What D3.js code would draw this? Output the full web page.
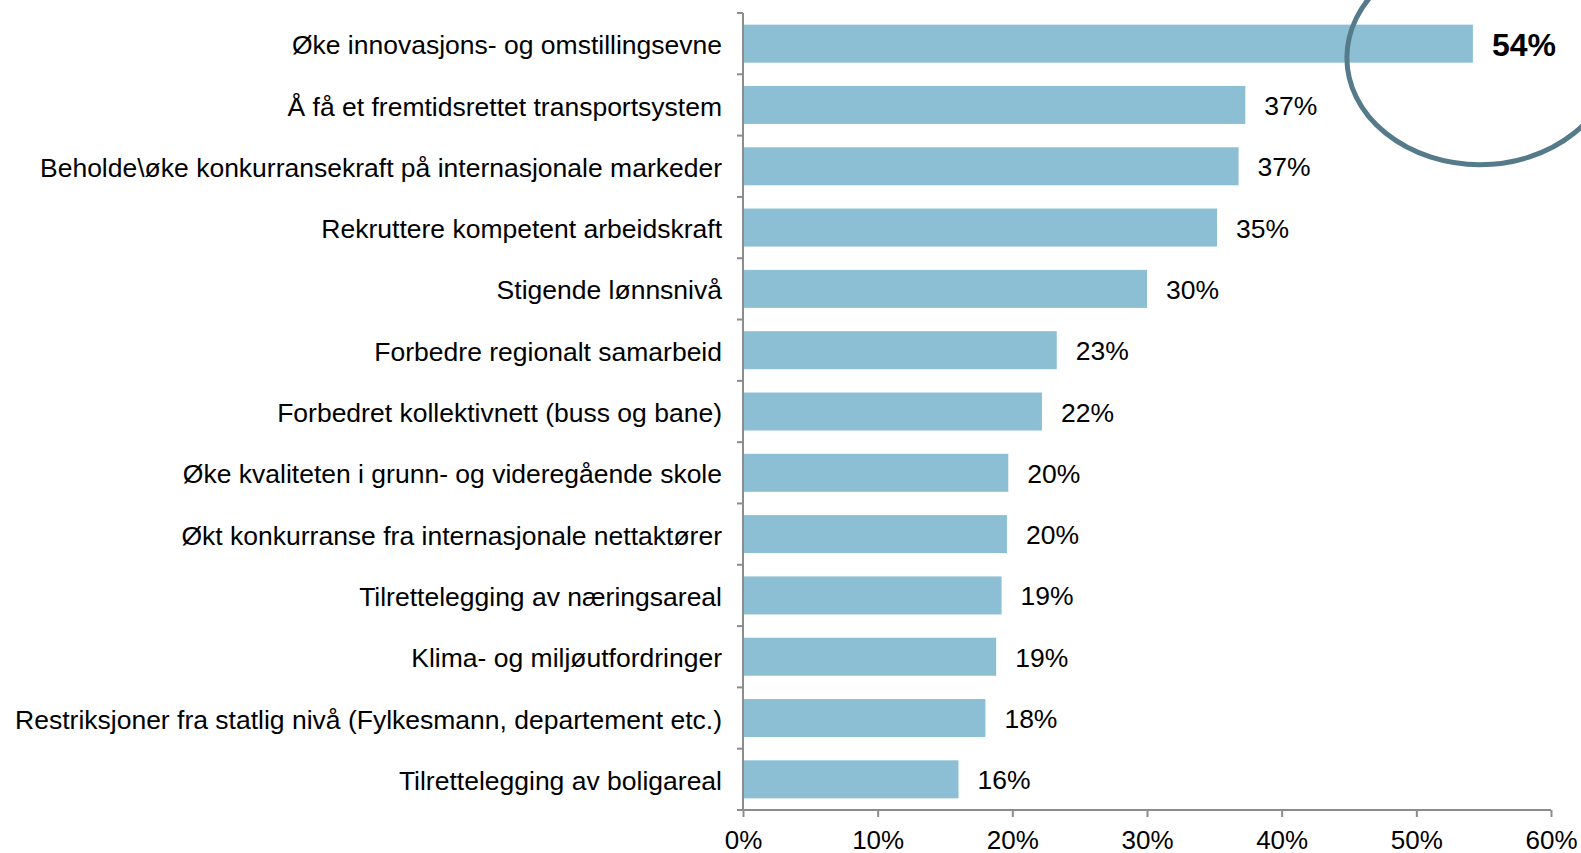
<!DOCTYPE html>
<html>
<head>
<meta charset="utf-8">
<script src="https://cdn.jsdelivr.net/npm/d3@7"></script>
<style>
  body { margin: 0; background: #ffffff; }
  svg { display: block; font-family: "Liberation Sans", Arial, Helvetica, sans-serif; }
</style>
</head>
<body>
<svg id="chart" width="1581" height="853"></svg>
<script>
// categories, top to bottom
let categories = [
	"Øke innovasjons- og omstillingsevne",
	"Å få et fremtidsrettet transportsystem",
	"Beholde\\øke konkurransekraft på internasjonale markeder",
	"Rekruttere kompetent arbeidskraft",
	"Stigende lønnsnivå",
	"Forbedre regionalt samarbeid",
	"Forbedret kollektivnett (buss og bane)",
	"Øke kvaliteten i grunn- og videregående skole",
	"Økt konkurranse fra internasjonale nettaktører",
	"Tilrettelegging av næringsareal",
	"Klima- og miljøutfordringer",
	"Restriksjoner fra statlig nivå (Fylkesmann, departement etc.)",
	"Tilrettelegging av boligareal"
];
// share in percent
let values = [ 54.2, 37.3, 36.8, 35.2, 30.0, 23.3, 22.2, 19.7, 19.6, 19.2, 18.8, 18.0, 16.0 ];
let xTicks = [ 0, 10, 20, 30, 40, 50, 60 ];

let barColor  = "#8cbfd4";
let axisColor = "#8c8c8c";
let ringColor = "#557b8a";

let svg = d3.select("#chart");

let plotL = 743, plotR = 1551, plotT = 13, plotB = 810;

let x = d3.scaleLinear().domain([ 0, 60 ]).range([ plotL, plotR ]);
let y = d3.scaleBand().domain(categories).range([ plotT, plotB ]).paddingInner(0.38).paddingOuter(0.19);

// bars
svg.append("g").selectAll("rect")
	.data(values).enter().append("rect")
		.attr("x", x(0))
		.attr("y", (d,i)=>{ return y(categories[i]); })
		.attr("width", (d)=>{ return x(d) - x(0); })
		.attr("height", y.bandwidth())
		.attr("fill", barColor)
;

// value labels
svg.append("g").selectAll("text")
	.data(values).enter().append("text")
		.attr("x", (d)=>{ return x(d) + 19; })
		.attr("y", (d,i)=>{ return y(categories[i]) + y.bandwidth()/2; })
		.attr("dy", "0.38em")
		.attr("font-size", (d,i)=>{ return i == 0 ? "32px" : "26.5px"; })
		.attr("font-weight", (d,i)=>{ return i == 0 ? "bold" : "normal"; })
		.attr("fill", "#000")
		.text((d)=>{ return Math.round(d) + "%"; })
;

// y axis: category ticks sit between bands
let yAx = svg.append("g").attr("transform", "translate(" + plotL + ",0)");
yAx.append("line")
	.attr("x1", 0).attr("x2", 0).attr("y1", plotT).attr("y2", plotB)
	.attr("stroke", axisColor).attr("stroke-width", 2);
let bounds = d3.range(categories.length + 1).map((i)=>{ return plotT + i * y.step(); });
yAx.selectAll("line.tk")
	.data(bounds).enter().append("line")
		.attr("class", "tk")
		.attr("x1", -6).attr("x2", 0)
		.attr("y1", (d)=>{ return d; }).attr("y2", (d)=>{ return d; })
		.attr("stroke", axisColor).attr("stroke-width", 2)
;
yAx.selectAll("text")
	.data(categories).enter().append("text")
		.attr("x", -21)
		.attr("y", (d)=>{ return y(d) + y.bandwidth()/2; })
		.attr("dy", "0.4em")
		.attr("text-anchor", "end")
		.attr("font-size", "26.5px")
		.attr("fill", "#000")
		.text((d)=>{ return d; })
;

// x axis
let xAx = svg.append("g")
	.attr("transform", "translate(0," + plotB + ")")
	.call(d3.axisBottom(x).tickValues(xTicks).tickSize(7).tickPadding(14).tickFormat((d)=>{ return d + "%"; }));
xAx.select(".domain").attr("stroke", axisColor).attr("stroke-width", 2).attr("d", "M" + plotL + ",0H" + plotR);
xAx.selectAll(".tick line").attr("stroke", axisColor).attr("stroke-width", 2);
xAx.selectAll(".tick text")
	.attr("font-family", "Liberation Sans, Arial, sans-serif")
	.attr("font-size", "26px")
	.attr("fill", "#000");

// highlight ring round the top bar
svg.append("ellipse")
	.attr("cx", x(values[0]) + 7)
	.attr("cy", y(categories[0]) + y.bandwidth()/2 + 14)
	.attr("rx", 133)
	.attr("ry", 107)
	.attr("fill", "none")
	.attr("stroke", ringColor)
	.attr("stroke-width", 5)
;
</script>
</body>
</html>
